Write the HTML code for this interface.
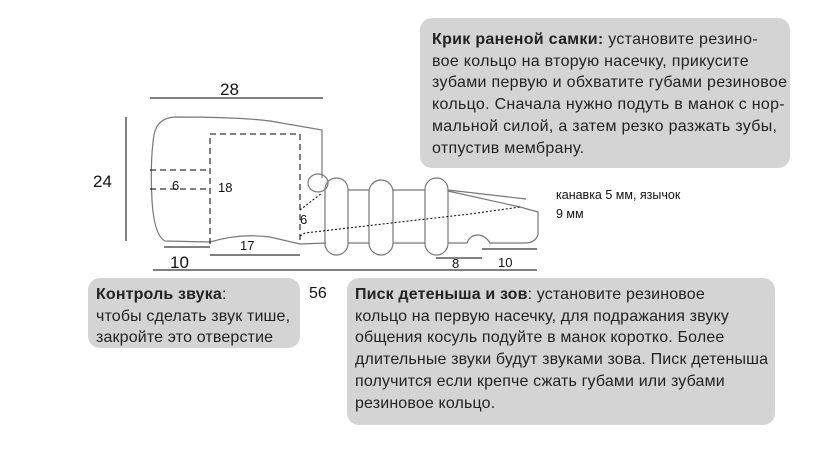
<!DOCTYPE html>
<html><head><meta charset="utf-8"><style>
body{margin:0;width:819px;height:460px;background:#fff;position:relative;overflow:hidden;font-family:"Liberation Sans",sans-serif;}
.box{position:absolute;background:#d4d4d4;border-radius:12px;color:#222;font-size:16px;line-height:21.7px;white-space:nowrap;box-sizing:border-box;letter-spacing:0.15px;}
.t{position:absolute;font-family:"Liberation Sans",sans-serif;color:#111;}
</style></head><body>
<svg width="819" height="460" style="position:absolute;left:0;top:0" fill="none" stroke="#777" stroke-width="1.2">
<g stroke="#000" stroke-width="1">
<line x1="150" y1="98" x2="323" y2="98"/>
<line x1="126" y1="117" x2="126" y2="241"/>
<line x1="164" y1="247" x2="210" y2="247"/>
<line x1="210" y1="255" x2="300" y2="255"/>
<line x1="153" y1="270" x2="537" y2="270"/>
<line x1="436" y1="258" x2="482" y2="258"/>
<line x1="482" y1="249" x2="537" y2="249"/>
</g>
<path d="M322,178 L322,130 L270,121 Q240,117 175,117 Q157,118 154,135 Q150,160 152,200 Q154,235 165,241 L210,242 Q240,233 270,237 L300,244 L326,243"/>
<ellipse cx="318" cy="183" rx="10" ry="9"/>
<rect x="325" y="178" width="23" height="77" rx="11.5"/>
<rect x="369" y="180" width="24" height="75" rx="12"/>
<rect x="425" y="178" width="23" height="77" rx="11.5"/>
<line x1="348" y1="190" x2="369" y2="190"/><line x1="348" y1="243" x2="369" y2="243"/>
<line x1="393" y1="190" x2="425" y2="190"/><line x1="393" y1="243" x2="425" y2="243"/>
<line x1="448" y1="190" x2="526" y2="199"/>
<path d="M448,191 L520,207 L538,212 L538,235 Q535,243 525,243 L490,243 Q485,235 478,235 Q470,235 467,243 L448,243"/>
<g stroke="#000" stroke-dasharray="6,4" stroke-width="1">
<path d="M210,244 L210,134 L300,134 L300,244"/>
<line x1="150" y1="170" x2="210" y2="170"/>
<line x1="150" y1="189" x2="210" y2="189"/>
</g>
<g stroke="#000" stroke-dasharray="2,2" stroke-width="1">
<path d="M300,210 L322,193"/>
<path d="M300,236 L305,233 L400,222 L470,214 L520,207"/>
</g>
</svg>
<div class="t" style="left:220px;top:80px;font-size:17px">28</div>
<div class="t" style="left:93px;top:172px;font-size:17px">24</div>
<div class="t" style="left:172px;top:178px;font-size:13px">6</div>
<div class="t" style="left:218px;top:180px;font-size:13px">18</div>
<div class="t" style="left:300px;top:212px;font-size:13px">6</div>
<div class="t" style="left:240px;top:238px;font-size:13px">17</div>
<div class="t" style="left:170px;top:253px;font-size:17px">10</div>
<div class="t" style="left:309px;top:285px;font-size:16px">56</div>
<div class="t" style="left:452px;top:256px;font-size:13px">8</div>
<div class="t" style="left:498px;top:255px;font-size:13px">10</div>
<div class="t" style="left:556px;top:186px;font-size:12.5px;line-height:19px">канавка 5 мм, язычок<br>9 мм</div>
<div class="box" style="left:420px;top:18px;width:370px;height:150px;padding:11px 0 0 12px;letter-spacing:0.3px;"><b>Крик раненой самки:</b> установите резино-<br>вое кольцо на вторую насечку, прикусите<br>зубами первую и обхватите губами резиновое<br>кольцо. Сначала нужно подуть в манок с нор-<br>мальной силой, а затем резко разжать зубы,<br>отпустив мембрану.</div>
<div class="box" style="left:88px;top:278px;width:212px;height:70px;padding:6px 0 0 8px;"><b>Контроль звука</b>:<br>чтобы сделать звук тише,<br>закройте это отверстие</div>
<div class="box" style="left:347px;top:278px;width:428px;height:147px;padding:6px 0 0 8px;"><b>Писк детеныша и зов</b>: установите резиновое<br>кольцо на первую насечку, для подражания звуку<br>общения косуль подуйте в манок коротко. Более<br>длительные звуки будут звуками зова. Писк детеныша<br>получится если крепче сжать губами или зубами<br>резиновое кольцо.</div>
</body></html>
